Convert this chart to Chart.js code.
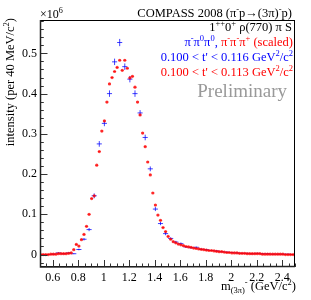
<!DOCTYPE html>
<html>
<head>
<meta charset="utf-8">
<script src="https://cdn.jsdelivr.net/npm/chart.js@4"></script>
<style>
  html, body { margin: 0; padding: 0; background: #fff; }
  #wrap { width: 311px; height: 300px; position: relative; }
</style>
</head>
<body>
<div id="wrap"><canvas id="plot"></canvas></div>
<script>
// ---------------------------------------------------------------------------
// Data (intensity in units of 10^6)
// ---------------------------------------------------------------------------
const blueMass = [0.525, 0.565, 0.605, 0.645, 0.685, 0.725, 0.765, 0.805, 0.845, 0.885,
  0.925, 0.965, 1.005, 1.045, 1.085, 1.125, 1.165, 1.205, 1.245, 1.285,
  1.325, 1.365, 1.405, 1.445, 1.485, 1.525, 1.565, 1.605, 1.645, 1.685,
  1.725, 1.765, 1.805, 1.845, 1.885, 1.925, 1.965, 2.005, 2.045, 2.085,
  2.125, 2.165, 2.205, 2.245, 2.285, 2.325, 2.365, 2.405, 2.445, 2.485];
const blueIntensity = [0.000, 0.000, 0.001, 0.004, 0.002, 0.004, 0.002, 0.0125, 0.038, 0.062,
  0.146, 0.275, 0.326, 0.400, 0.479, 0.527, 0.467, 0.436, 0.400, 0.352,
  0.291, 0.213, 0.113, 0.077, 0.052, 0.040, 0.031, 0.027, 0.019, 0.017,
  0.018, 0.013, 0.012, 0.010, 0.009, 0.007, 0.006, 0.005, 0.004, 0.003,
  0.003, 0.002, 0.003, 0.002, 0.002, 0.001, 0.001, 0.001, 0.001, 0.000];
const blueError = [0.0005, 0.0005, 0.001, 0.001, 0.001, 0.001, 0.001, 0.002, 0.003, 0.004,
  0.006, 0.007, 0.007, 0.008, 0.008, 0.009, 0.008, 0.008, 0.008, 0.007,
  0.007, 0.006, 0.005, 0.004, 0.004, 0.003, 0.003, 0.003, 0.002, 0.002,
  0.002, 0.002, 0.002, 0.0015, 0.0015, 0.001, 0.001, 0.001, 0.001, 0.001,
  0.001, 0.001, 0.001, 0.001, 0.001, 0.0005, 0.0005, 0.0005, 0.0005, 0.0005];

const redMass = [0.505, 0.525, 0.545, 0.565, 0.585, 0.605, 0.625, 0.645, 0.665, 0.685,
  0.705, 0.725, 0.745, 0.765, 0.785, 0.805, 0.825, 0.845, 0.865, 0.885,
  0.905, 0.925, 0.945, 0.965, 0.985, 1.005, 1.025, 1.045, 1.065, 1.085,
  1.105, 1.125, 1.145, 1.165, 1.185, 1.205, 1.225, 1.245, 1.265, 1.285,
  1.305, 1.325, 1.345, 1.365, 1.385, 1.405, 1.425, 1.445, 1.465, 1.485,
  1.505, 1.525, 1.545, 1.565, 1.585, 1.605, 1.625, 1.645, 1.665, 1.685,
  1.705, 1.725, 1.745, 1.765, 1.785, 1.805, 1.825, 1.845, 1.865, 1.885,
  1.905, 1.925, 1.945, 1.965, 1.985, 2.005, 2.025, 2.045, 2.065, 2.085,
  2.105, 2.125, 2.145, 2.165, 2.185, 2.205, 2.225, 2.245, 2.265, 2.285,
  2.305, 2.325, 2.345, 2.365, 2.385, 2.405, 2.425, 2.445, 2.465, 2.485];
const redIntensity = [0.000, 0.000, 0.000, 0.000, 0.001, 0.001, 0.001, 0.002, 0.002, 0.002,
  0.002, 0.003, 0.004, 0.012, 0.025, 0.021, 0.037, 0.050, 0.070, 0.100,
  0.139, 0.146, 0.222, 0.256, 0.307, 0.332, 0.379, 0.424, 0.440, 0.455,
  0.465, 0.483, 0.458, 0.483, 0.463, 0.439, 0.443, 0.416, 0.379, 0.347,
  0.302, 0.268, 0.230, 0.198, 0.153, 0.123, 0.098, 0.085, 0.067, 0.057,
  0.045, 0.038, 0.032, 0.029, 0.026, 0.024, 0.022, 0.020, 0.019, 0.018,
  0.016, 0.015, 0.014, 0.013, 0.012, 0.011, 0.010, 0.010, 0.009, 0.008,
  0.007, 0.007, 0.006, 0.005, 0.005, 0.004, 0.004, 0.004, 0.003, 0.003,
  0.003, 0.002, 0.002, 0.002, 0.002, 0.002, 0.002, 0.001, 0.001, 0.001,
  0.001, 0.001, 0.001, 0.001, 0.001, 0.001, 0.000, 0.000, 0.000, 0.000];

const xTickValues = [0.6, 0.8, 1, 1.2, 1.4, 1.6, 1.8, 2, 2.2, 2.4];
const xTickLabels = ['0.6', '0.8', '1', '1.2', '1.4', '1.6', '1.8', '2', '2.2', '2.4'];
const yTickValues = [0, 0.1, 0.2, 0.3, 0.4, 0.5];
const yTickLabels = ['0', '0.1', '0.2', '0.3', '0.4', '0.5'];

const BLUE = 'rgba(0, 0, 255, 0.75)';
const RED = 'rgba(255, 0, 0, 0.75)';
const SERIF = "'Liberation Serif', 'Times New Roman', serif";

// ---------------------------------------------------------------------------
// Small rich-text helper: supports ^{sup} and _{sub}
// ---------------------------------------------------------------------------
function parseRich(str) {
  const out = [];
  const re = /\^\{([^}]*)\}|_\{([^}]*)\}|([^_^]+)/g;
  let m;
  while ((m = re.exec(str)) !== null) {
    if (m[1] !== undefined) out.push({ t: m[1], lvl: 1 });
    else if (m[2] !== undefined) out.push({ t: m[2], lvl: -1 });
    else out.push({ t: m[3], lvl: 0 });
  }
  return out;
}

function drawRich(ctx, pieces, x, y, size, align) {
  const runs = [];
  pieces.forEach(([str, color]) => {
    parseRich(str).forEach(p => runs.push({ ...p, color }));
  });
  let total = 0;
  runs.forEach(r => {
    r.size = r.lvl === 0 ? size : size * 0.68;
    ctx.font = r.size + 'px ' + SERIF;
    r.w = ctx.measureText(r.t).width;
    total += r.w;
  });
  let cx = align === 'right' ? x - total : x;
  ctx.textAlign = 'left';
  ctx.textBaseline = 'alphabetic';
  runs.forEach(r => {
    ctx.font = r.size + 'px ' + SERIF;
    ctx.fillStyle = r.color;
    const dy = r.lvl === 1 ? -size * 0.4 : (r.lvl === -1 ? size * 0.25 : 0);
    ctx.fillText(r.t, cx, y + dy);
    cx += r.w;
  });
}

// ---------------------------------------------------------------------------
// Error bar crosses (drawn through the chart scales)
// ---------------------------------------------------------------------------
const errorBars = {
  id: 'errorBars',
  beforeDatasetsDraw(chart) {
    const { ctx, chartArea: a, scales: { x, y } } = chart;
    ctx.save();
    ctx.beginPath();
    ctx.rect(a.left, a.top, a.right - a.left, a.bottom - a.top);
    ctx.clip();
    chart.data.datasets.forEach(ds => {
      ctx.strokeStyle = ds.barColor;
      ctx.lineWidth = 1;
      ctx.beginPath();
      ds.data.forEach((p, i) => {
        const px = x.getPixelForValue(p.x);
        const py = y.getPixelForValue(p.y);
        ctx.moveTo(x.getPixelForValue(p.x - ds.xHalf), py);
        ctx.lineTo(x.getPixelForValue(p.x + ds.xHalf), py);
        if (ds.yErr) {
          ctx.moveTo(px, y.getPixelForValue(p.y - ds.yErr[i]));
          ctx.lineTo(px, y.getPixelForValue(p.y + ds.yErr[i]));
        }
      });
      ctx.stroke();
    });
    ctx.restore();
  }
};

// ---------------------------------------------------------------------------
// ROOT-like frame, inside ticks and all the annotations
// ---------------------------------------------------------------------------
const frame = {
  id: 'frame',
  afterDraw(chart) {
    const { ctx, chartArea: a, scales: { x, y } } = chart;
    ctx.save();
    ctx.strokeStyle = '#000';
    ctx.lineWidth = 1;
    ctx.strokeRect(a.left + 0.5, a.top + 0.5, a.right - a.left - 1, a.bottom - a.top - 1);

    ctx.strokeStyle = '#333';
    ctx.beginPath();
    // x ticks: major every 0.2, minor every 0.05
    for (let k = 0; k <= 40; k++) {
      const v = 0.5 + k * 0.05;
      const px = Math.round(x.getPixelForValue(v)) + 0.5;
      const major = xTickValues.some(t => Math.abs(t - v) < 1e-6);
      ctx.moveTo(px, a.bottom);
      ctx.lineTo(px, a.bottom - (major ? 7 : 3.5));
    }
    // y ticks: major every 0.1, minor every 0.02
    for (let k = -1; k <= 29; k++) {
      const v = k * 0.02;
      if (v < y.min || v > y.max) continue;
      const py = Math.round(y.getPixelForValue(v)) + 0.5;
      const major = yTickValues.some(t => Math.abs(t - v) < 1e-6);
      ctx.moveTo(a.left, py);
      ctx.lineTo(a.left + (major ? 7.5 : 3.8), py);
    }
    ctx.stroke();

    // axis lines a bit heavier
    ctx.strokeStyle = '#222';
    ctx.lineWidth = 1.5;
    ctx.beginPath();
    ctx.moveTo(a.left + 0.5, a.top);
    ctx.lineTo(a.left + 0.5, a.bottom);
    ctx.lineTo(a.right, a.bottom - 0.5);
    ctx.stroke();

    // exponent and title
    drawRich(ctx, [['×10^{6}', '#000']], a.left, 18, 12, 'left');
    drawRich(ctx, [['COMPASS 2008 (π^{-}p→(3π)^{-}p)', '#000']], 292, 16.5, 12.5, 'right');

    // legend block
    drawRich(ctx, [['1^{++}0^{+} ρ(770) π S', '#000']], 292, 31, 12.5, 'right');
    drawRich(ctx, [['π^{-}π^{0}π^{0}, ', '#0000ff'], ['π^{-}π^{-}π^{+} (scaled)', '#ff0000']], 293, 46, 12.5, 'right');
    drawRich(ctx, [["0.100 < t' < 0.116 GeV^{2}/c^{2}", '#0000ff']], 293, 61, 12.5, 'right');
    drawRich(ctx, [["0.100 < t' < 0.113 GeV^{2}/c^{2}", '#ff0000']], 293, 75.5, 12.5, 'right');
    drawRich(ctx, [['Preliminary', '#999']], 287, 96.5, 19, 'right');

    // axis titles
    drawRich(ctx, [['m_{(3π)}^{-} (GeV/c^{2})', '#000']], 296, 289.5, 12.5, 'right');
    ctx.translate(14, 18);
    ctx.rotate(-Math.PI / 2);
    drawRich(ctx, [['intensity (per 40 MeV/c^{2})', '#000']], 0, 0, 12.5, 'right');
    ctx.restore();
  }
};

new Chart(document.getElementById('plot'), {
  type: 'scatter',
  data: {
    datasets: [
      {
        label: 'pi- pi0 pi0',
        data: blueMass.map((m, i) => ({ x: m, y: blueIntensity[i] })),
        yErr: blueError,
        xHalf: 0.02,
        barColor: BLUE,
        pointRadius: 0,
        showLine: false
      },
      {
        label: 'pi- pi- pi+ (scaled)',
        data: redMass.map((m, i) => ({ x: m, y: redIntensity[i] })),
        xHalf: 0.01,
        barColor: RED,
        pointRadius: 1.6,
        pointBorderWidth: 0,
        pointBackgroundColor: RED,
        showLine: false
      }
    ]
  },
  options: {
    responsive: true,
    maintainAspectRatio: false,
    animation: false,
    events: [],
    layout: { padding: { top: 20, right: 16, left: 0, bottom: 0 } },
    plugins: { legend: { display: false }, tooltip: { enabled: false } },
    scales: {
      x: {
        type: 'linear',
        min: 0.5,
        max: 2.5,
        grid: { display: false, drawTicks: false },
        border: { display: false },
        afterBuildTicks: s => { s.ticks = xTickValues.map(v => ({ value: v })); },
        afterFit: s => { s.height = 33; },
        ticks: {
          autoSkip: false,
          maxRotation: 0,
          padding: 4,
          color: '#000',
          font: { family: SERIF, size: 12 },
          callback: (v, i) => xTickLabels[i]
        }
      },
      y: {
        type: 'linear',
        min: -0.031,
        max: 0.583,
        grid: { display: false, drawTicks: false },
        border: { display: false },
        afterBuildTicks: s => { s.ticks = yTickValues.map(v => ({ value: v })); },
        afterFit: s => { s.width = 40; },
        ticks: {
          autoSkip: false,
          padding: 3,
          color: '#000',
          font: { family: SERIF, size: 12 },
          callback: (v, i) => yTickLabels[i]
        }
      }
    }
  },
  plugins: [errorBars, frame]
});
</script>
</body>
</html>
